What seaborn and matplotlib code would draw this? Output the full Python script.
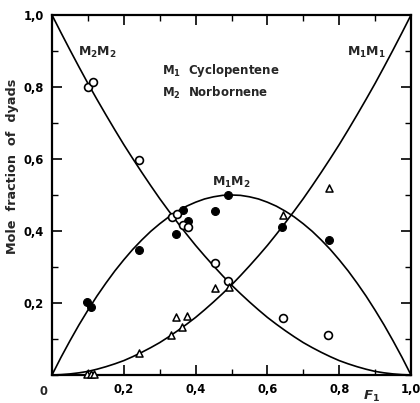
import matplotlib
matplotlib.use("Agg")
import matplotlib.pyplot as plt
import seaborn as sns
import pandas as pd
from matplotlib.ticker import MultipleLocator, FixedLocator, FixedFormatter

# ---- curves (x = F1) ----
curve_x = [0.0, 0.025, 0.05, 0.075, 0.10, 0.125, 0.15, 0.175, 0.20, 0.225, 0.25,
           0.275, 0.30, 0.325, 0.35, 0.375, 0.40, 0.425, 0.45, 0.475, 0.50,
           0.525, 0.55, 0.575, 0.60, 0.625, 0.65, 0.675, 0.70, 0.725, 0.75,
           0.775, 0.80, 0.825, 0.85, 0.875, 0.90, 0.925, 0.95, 0.975, 1.0]
m2m2_curve = [1.0, 0.951, 0.903, 0.856, 0.81, 0.766, 0.723, 0.681, 0.64, 0.601, 0.563,
              0.526, 0.49, 0.456, 0.423, 0.391, 0.36, 0.331, 0.303, 0.276, 0.25,
              0.226, 0.203, 0.181, 0.16, 0.141, 0.123, 0.106, 0.09, 0.076, 0.063,
              0.051, 0.04, 0.031, 0.023, 0.016, 0.01, 0.006, 0.003, 0.001, 0.0]
m1m1_curve = [0.0, 0.001, 0.003, 0.006, 0.01, 0.016, 0.023, 0.031, 0.04, 0.051, 0.063,
              0.076, 0.09, 0.106, 0.123, 0.141, 0.16, 0.181, 0.203, 0.226, 0.25,
              0.276, 0.303, 0.331, 0.36, 0.391, 0.423, 0.456, 0.49, 0.526, 0.563,
              0.601, 0.64, 0.681, 0.723, 0.766, 0.81, 0.856, 0.903, 0.951, 1.0]
m1m2_curve = [0.0, 0.049, 0.095, 0.139, 0.18, 0.219, 0.255, 0.289, 0.32, 0.349, 0.375,
              0.399, 0.42, 0.439, 0.455, 0.469, 0.48, 0.489, 0.495, 0.499, 0.50,
              0.499, 0.495, 0.489, 0.48, 0.469, 0.455, 0.439, 0.42, 0.399, 0.375,
              0.349, 0.32, 0.289, 0.255, 0.219, 0.18, 0.139, 0.095, 0.049, 0.0]

# ---- measured points ----
m1m2_x = [0.098, 0.110, 0.242, 0.346, 0.364, 0.378, 0.453, 0.490, 0.640, 0.772]
m1m2_y = [0.204, 0.188, 0.348, 0.393, 0.457, 0.428, 0.455, 0.500, 0.410, 0.375]

m2m2_x = [0.101, 0.115, 0.243, 0.334, 0.348, 0.365, 0.379, 0.453, 0.490, 0.644, 0.770]
m2m2_y = [0.799, 0.815, 0.597, 0.438, 0.446, 0.417, 0.412, 0.310, 0.261, 0.157, 0.111]

m1m1_x = [0.098, 0.108, 0.118, 0.243, 0.332, 0.346, 0.363, 0.377, 0.453, 0.493, 0.643, 0.772]
m1m1_y = [0.003, 0.003, 0.003, 0.062, 0.111, 0.162, 0.134, 0.165, 0.241, 0.244, 0.444, 0.519]

tick_vals = [0.2, 0.4, 0.6, 0.8, 1.0]
tick_text = ["0,2", "0,4", "0,6", "0,8", "1,0"]

sns.set_theme(style="ticks")
plt.rcParams['font.family'] = ['DejaVu Sans']
plt.rcParams['font.weight'] = 'bold'

fig = plt.figure(figsize=(4.2, 4.03), dpi=100)
ax = fig.add_axes([52/420, 1-375/403, 359/420, 360/403])

curves = pd.DataFrame({"F": curve_x, "M2M2": m2m2_curve, "M1M1": m1m1_curve, "M1M2": m1m2_curve})
for col in ["M2M2", "M1M1", "M1M2"]:
    sns.lineplot(data=curves, x="F", y=col, ax=ax, color="black", lw=1.2, sort=False,
                 clip_on=False, zorder=2)

sns.scatterplot(x=m1m2_x, y=m1m2_y, ax=ax, marker="o", s=32, color="black",
                edgecolor="black", linewidth=0.8, zorder=3, clip_on=False)
sns.scatterplot(x=m2m2_x, y=m2m2_y, ax=ax, marker="o", s=32, facecolor="white",
                edgecolor="black", linewidth=1.2, zorder=3, clip_on=False)
sns.scatterplot(x=m1m1_x, y=m1m1_y, ax=ax, marker="^", s=26, facecolor="white",
                edgecolor="black", linewidth=1.1, zorder=3, clip_on=False)

ax.set_xlim(0, 1)
ax.set_ylim(0, 1)
ax.set_xlabel("")
ax.set_ylabel("")
fig.text(13/420, 1-166/403, "Mole  fraction  of  dyads", rotation=90, ha="center",
         va="center", fontsize=9.2, fontweight="bold")

ax.xaxis.set_major_locator(FixedLocator(tick_vals))
ax.xaxis.set_major_formatter(FixedFormatter(tick_text))
ax.yaxis.set_major_locator(FixedLocator(tick_vals))
ax.yaxis.set_major_formatter(FixedFormatter(tick_text))
ax.xaxis.set_minor_locator(MultipleLocator(0.1))
ax.yaxis.set_minor_locator(MultipleLocator(0.1))
ax.tick_params(which="both", direction="in", top=True, right=True, colors="black",
               labelsize=8.3)
ax.tick_params(which="major", length=7, width=1.2, pad=6)
ax.tick_params(which="minor", length=4, width=1.0)
for s in ax.spines.values():
    s.set_linewidth(1.6)
    s.set_color("black")
    s.set_visible(True)

ax.text(-0.025, -0.045, "0", transform=ax.transAxes, ha="center", va="center", fontsize=8.3)
ax.text(0.89, -0.06, "$\\mathit{F}_{1}$", transform=ax.transAxes, ha="center",
        va="center", fontsize=9.5)

ax.text(0.128, 0.897, "M$_2$M$_2$", ha="center", va="center", fontsize=9)
ax.text(0.875, 0.897, "M$_1$M$_1$", ha="center", va="center", fontsize=9)
ax.text(0.50, 0.536, "M$_1$M$_2$", ha="center", va="center", fontsize=9)
ax.text(0.306, 0.847, "M$_1$  Cyclopentene", ha="left", va="center", fontsize=8.5)
ax.text(0.306, 0.783, "M$_2$  Norbornene", ha="left", va="center", fontsize=8.5)

fig.savefig("out.png", dpi=100)
